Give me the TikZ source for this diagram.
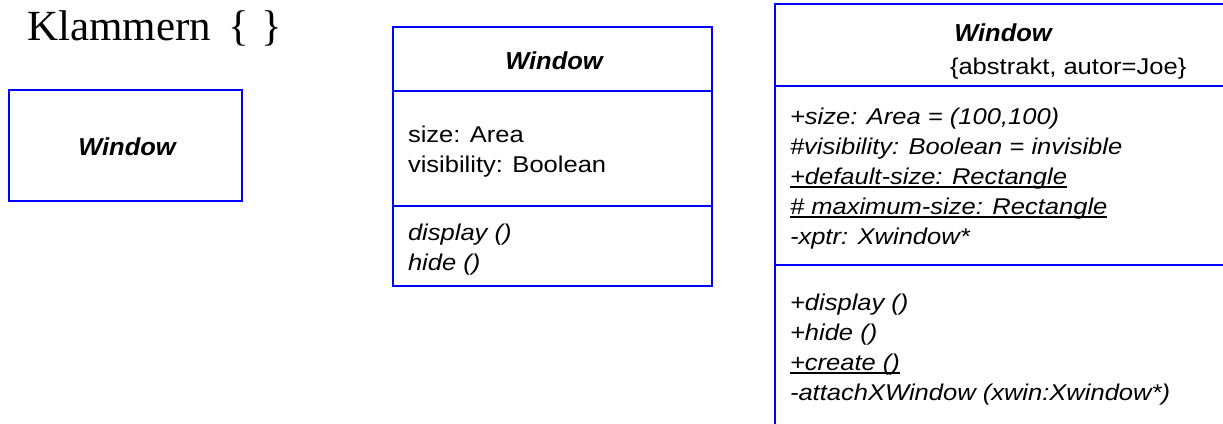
\documentclass[tikz,border=0pt]{standalone}
\usepackage{fontspec}
\setmainfont{Liberation Sans}
\newfontfamily\bodyfont[FakeStretch=1.12]{Liberation Sans}
\newfontfamily\headfont[FakeStretch=1.04]{Liberation Sans}
\newfontfamily\klfont{Liberation Serif}
\definecolor{umlblue}{RGB}{0,0,255}
\tikzset{
  compart/.style={draw=umlblue, line width=2pt, inner sep=0pt, outer sep=0pt, anchor=north west},
  txt/.style={inner sep=0pt, outer sep=0pt, anchor=base west, font=\bodyfont\fontsize{22.8}{26}\selectfont\itshape},
  txtup/.style={inner sep=0pt, outer sep=0pt, anchor=base west, font=\bodyfont\fontsize{22.8}{26}\selectfont},
  classname/.style={inner sep=0pt, outer sep=0pt, anchor=base, font=\headfont\fontsize{24.5}{28}\selectfont\bfseries\itshape},
  uline/.style={line width=1.4pt, black}
}
\begin{document}
\begin{tikzpicture}[x=1pt, y=-1pt]
\useasboundingbox (0,0) rectangle (1223,423);
\clip (0,0) rectangle (1223,423);

% heading
\node[inner sep=0pt, anchor=base west, font=\klfont\fontsize{43}{50}\selectfont] (heading) at (27,40) {Klammern\hspace{7pt} \{\hspace{1pt} \}};

% box 1
\node[compart, minimum width=233pt, minimum height=111pt] (b1) at (9,90) {};
\node[classname] (b1name) at (127,155) {Window};

% box 2
\node[compart, minimum width=319pt, minimum height=64pt] (b2h) at (393,27) {};
\node[compart, minimum width=319pt, minimum height=115pt] (b2a) at (393,91) {};
\node[compart, minimum width=319pt, minimum height=80pt] (b2m) at (393,206) {};
\node[classname] (b2name) at (554,69) {Window};
\node[txtup] (b2a1) at (408,142) {size: Area};
\node[txtup] (b2a2) at (408,172) {visibility: Boolean};
\node[txt] (b2m1) at (408,240) {display ()};
\node[txt] (b2m2) at (408,270) {hide ()};

% box 3
\node[compart, minimum width=470pt, minimum height=82pt] (b3h) at (775,4) {};
\node[compart, minimum width=470pt, minimum height=179pt] (b3a) at (775,86) {};
\node[compart, minimum width=470pt, minimum height=180pt] (b3m) at (775,265) {};
\node[classname] (b3name) at (1003,41) {Window};
\node[txtup] (b3prop) at (950,74) {\{abstrakt, autor=Joe\}};
\node[txt] (a1) at (790,124) {+size: Area = (100,100)};
\node[txt] (a2) at (790,154) {\#visibility: Boolean = invisible};
\node[txt] (a3) at (790,184) {+default-size: Rectangle};
\node[txt] (a4) at (790,214) {\# maximum-size: Rectangle};
\node[txt] (a5) at (790,244) {-xptr: Xwindow*};
\draw[uline] ([yshift=-3pt]a3.base west) -- ([yshift=-3pt]a3.base east);
\draw[uline] ([yshift=-3pt]a4.base west) -- ([yshift=-3pt]a4.base east);
\node[txt] (m1) at (790,310) {+display ()};
\node[txt] (m2) at (790,340) {+hide ()};
\node[txt] (m3) at (790,370) {+create ()};
\node[txt] (m4) at (790,400) {-attachXWindow (xwin:Xwindow*)};
\draw[uline] ([yshift=-3pt]m3.base west) -- ([yshift=-3pt]m3.base east);
\end{tikzpicture}
\end{document}
